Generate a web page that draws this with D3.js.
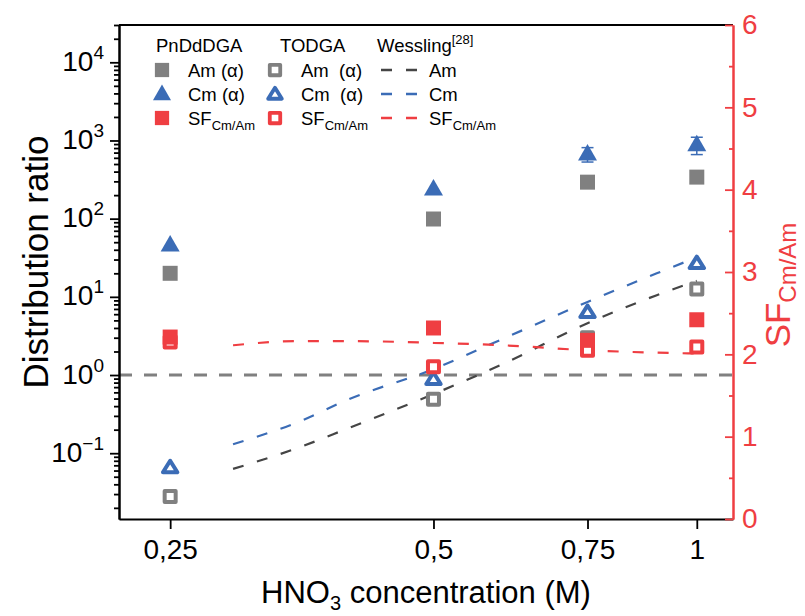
<!DOCTYPE html>
<html>
<head>
<meta charset="utf-8">
<script src="https://cdn.jsdelivr.net/npm/d3@7"></script>
<style>
body { margin: 0; background: #fff; }
text { font-family: "Liberation Sans", Arial, sans-serif; }
</style>
</head>
<body>
<div id="chart"></div>
<script>
// HNO3 concentration (M)
const conc = [0.25, 0.5, 0.75, 1];

// PnDdDGA
const pnAm = [20, 99, 293, 340];
const pnCm = [46, 240, 670, 880];
const pnCmErr = [0, 0, 140, 220];
const pnSF = [2.21, 2.32, 2.17, 2.42];

// TODGA
const toAm = [0.028, 0.49, 3.0, 12.6];
const toCm = [0.066, 0.89, 6.4, 27];
const toSF = [2.15, 1.85, 2.05, 2.09];

// Wessling [28]
const wConc = [0.295, 0.35, 0.4, 0.5, 0.6, 0.75, 0.9, 1];
const wAm = [0.063, 0.117, 0.21, 0.57, 1.38, 4.6, 10.5, 16];
const wCm = [0.13, 0.25, 0.49, 1.19, 2.9, 8.6, 20, 32];
const wSF = [2.11, 2.16, 2.16, 2.14, 2.11, 2.05, 2.02, 2.01];

const xTicks = [0.25, 0.5, 0.75, 1];
const yExps = [-1, 0, 1, 2, 3, 4];
const sfTicks = [0, 1, 2, 3, 4, 5, 6];
const sfMinor = [0.5, 1.5, 2.5, 3.5, 4.5, 5.5];

const gray = "#808080", blue = "#3b6cb6", red = "#ef3e42", dark = "#454545";

const svg = d3.select("#chart")
    .append("svg")
    .attr("width", 805)
    .attr("height", 616)
    .style("background", "#fff");

const x = d3.scaleLog().domain([0.2185, 1.1]).range([119, 733]);
const y = d3.scaleLog().domain([0.0144, 30000]).range([519, 25]);
const y2 = d3.scaleLinear().domain([0, 6]).range([519, 25]);

// minor ticks of the log axis
const yMinor = [];
yExps.concat([-2]).forEach(e => {
    for (let m = 2; m <= 9; m++) {
        const v = m * Math.pow(10, e);
        if (v >= y.domain()[0] && v <= y.domain()[1]) yMinor.push(v);
    }
});

// reference line D = 1
svg.append("line")
    .attr("x1", 119).attr("x2", 733)
    .attr("y1", y(1)).attr("y2", y(1))
    .attr("stroke", gray)
    .attr("stroke-width", 3)
    .attr("stroke-dasharray", "13,12");

// Wessling curves
const wLine = (vals, scale) => d3.line()
    .x((d, i) => x(wConc[i]))
    .y(d => scale(d))
    .curve(d3.curveMonotoneX)(vals);

[[wAm, y, dark], [wCm, y, blue], [wSF, y2, red]].forEach(([vals, scale, col]) => {
    svg.append("path")
        .attr("d", wLine(vals, scale))
        .attr("fill", "none")
        .attr("stroke", col)
        .attr("stroke-width", 2.2)
        .attr("stroke-dasharray", "11,14");
});

// marker shapes
const filledSquare = "M-7.5,-7.5H7.5V7.5H-7.5Z";
const hollowSquare = "M-5.5,-5.5H5.5V5.5H-5.5Z";
const filledTri = "M0,-10L9.5,6.5L-9.5,6.5Z";
const hollowTri = "M0,-6.5L7.2,5L-7.2,5Z";

function markers(vals, scale, shape, col, hollow) {
    svg.append("g")
        .selectAll("path")
        .data(vals)
        .enter()
        .append("path")
        .attr("transform", (d, i) => `translate(${x(conc[i])},${scale(d)})`)
        .attr("d", shape)
        .attr("fill", hollow ? "#fff" : col)
        .attr("stroke", hollow ? col : "none")
        .attr("stroke-width", hollow ? 4 : 0)
        .attr("stroke-linejoin", "round");
}

markers(toAm, y, hollowSquare, gray, true);
markers(toCm, y, hollowTri, blue, true);
markers(toSF, y2, hollowSquare, red, true);
markers(pnAm, y, filledSquare, gray, false);
markers(pnCm, y, filledTri, blue, false);
markers(pnSF, y2, filledSquare, red, false);

// error bars
const eb = svg.append("g").attr("stroke", blue).attr("stroke-width", 1.5);
pnCm.forEach((v, i) => {
    if (!pnCmErr[i]) return;
    const cx = x(conc[i]), lo = y(v - pnCmErr[i]), hi = y(v + pnCmErr[i]);
    eb.append("line").attr("x1", cx).attr("x2", cx).attr("y1", lo).attr("y2", hi);
    eb.append("line").attr("x1", cx - 6).attr("x2", cx + 6).attr("y1", lo).attr("y2", lo);
    eb.append("line").attr("x1", cx - 6).attr("x2", cx + 6).attr("y1", hi).attr("y2", hi);
});

// frame top
svg.append("line")
    .attr("x1", 119).attr("x2", 733)
    .attr("y1", 25).attr("y2", 25)
    .attr("stroke", "#000").attr("stroke-width", 2);

// left axis
svg.append("g")
    .attr("transform", "translate(119,0)")
    .call(d3.axisLeft(y).tickValues(yMinor).tickSize(5).tickSizeOuter(0).tickFormat(""))
    .call(g => g.selectAll("line").attr("stroke-width", 1.8))
    .call(g => g.select(".domain").attr("stroke-width", 2));

const yAxis = svg.append("g")
    .attr("transform", "translate(119,0)")
    .call(d3.axisLeft(y).tickValues(yExps.map(e => Math.pow(10, e))).tickSize(9).tickSizeOuter(0).tickFormat(""));
yAxis.selectAll("line").attr("stroke-width", 1.8);
yAxis.select(".domain").attr("stroke-width", 2);

yAxis.selectAll(".tick")
    .append("text")
    .attr("x", -15)
    .attr("y", 8)
    .attr("text-anchor", "end")
    .attr("fill", "#000")
    .style("font-size", "28px")
    .each(function(d) {
        const t = d3.select(this);
        const e = Math.round(Math.log10(d));
        t.append("tspan").text("10");
        t.append("tspan")
            .attr("dy", -12)
            .style("font-size", "19px")
            .text(e < 0 ? "\u2212" + (-e) : e);
    });

// bottom axis
const xAxis = svg.append("g")
    .attr("transform", "translate(0,519)")
    .call(d3.axisBottom(x).tickValues(xTicks).tickSize(10).tickSizeOuter(0).tickPadding(10)
        .tickFormat(d => String(d).replace(".", ",")));
xAxis.selectAll("line").attr("stroke-width", 1.8);
xAxis.select(".domain").attr("stroke-width", 2);
xAxis.selectAll("text").style("font-size", "28px").attr("fill", "#000");

// right axis
svg.append("g")
    .attr("transform", "translate(733,0)")
    .call(d3.axisRight(y2).tickValues(sfMinor).tickSize(-4).tickSizeOuter(0).tickFormat(""))
    .call(g => g.selectAll("line").attr("stroke", red).attr("stroke-width", 1.8))
    .call(g => g.select(".domain").attr("stroke", red).attr("stroke-width", 2));

const rAxis = svg.append("g")
    .attr("transform", "translate(733,0)")
    .call(d3.axisRight(y2).tickValues(sfTicks).tickSize(-8).tickSizeOuter(0).tickPadding(9)
        .tickFormat(d3.format("d")));
rAxis.selectAll("line").attr("stroke", red).attr("stroke-width", 1.8);
rAxis.select(".domain").attr("stroke", red).attr("stroke-width", 2);
rAxis.selectAll("text").style("font-size", "28px").attr("fill", red);

// axis titles
const xTitle = svg.append("text")
    .attr("x", 426)
    .attr("y", 603)
    .attr("text-anchor", "middle")
    .style("font-size", "31px");
xTitle.append("tspan").text("HNO");
xTitle.append("tspan").attr("dy", 7).style("font-size", "20px").text("3");
xTitle.append("tspan").attr("dy", -7).text(" concentration (M)");

svg.append("text")
    .attr("transform", "translate(48,262) rotate(-90)")
    .attr("text-anchor", "middle")
    .style("font-size", "35px")
    .text("Distribution ratio");

const rTitle = svg.append("text")
    .attr("transform", "translate(790,285) rotate(-90)")
    .attr("text-anchor", "middle")
    .attr("fill", red)
    .style("font-size", "35px");
rTitle.append("tspan").text("SF");
rTitle.append("tspan").attr("dy", 6).style("font-size", "24px").text("Cm/Am");

// legend
const legend = svg.append("g").style("font-size", "18.5px");
[["PnDdDGA", 156], ["TODGA", 280]].forEach(([t, lx]) => {
    legend.append("text").attr("x", lx).attr("y", 52).text(t);
});
const wt = legend.append("text").attr("x", 377).attr("y", 52);
wt.append("tspan").text("Wessling");
wt.append("tspan").attr("dy", -8).style("font-size", "13px").text("[28]");

const rows = [
    {y: 70, col: gray, pn: filledSquare, to: hollowSquare, lab: "Am (\u03b1)", lab2: "Am  (\u03b1)", lab3: "Am", sf: false},
    {y: 94, col: blue, pn: filledTri, to: hollowTri, lab: "Cm (\u03b1)", lab2: "Cm  (\u03b1)", lab3: "Cm", sf: false},
    {y: 118, col: red, pn: filledSquare, to: hollowSquare, lab: "SF", lab2: "SF", lab3: "SF", sf: true}
];

function legendLabel(lx, ly, t, sf) {
    const el = legend.append("text").attr("x", lx).attr("y", ly + 7).style("white-space", "pre").text(t);
    if (sf) el.append("tspan").attr("dy", 5).style("font-size", "13px").text("Cm/Am");
}

rows.forEach((r, i) => {
    legend.append("path")
        .attr("transform", `translate(162,${r.y}) scale(0.95)`)
        .attr("d", r.pn).attr("fill", r.col);
    legend.append("path")
        .attr("transform", `translate(275,${r.y}) scale(0.95)`)
        .attr("d", r.to).attr("fill", "#fff").attr("stroke", r.col)
        .attr("stroke-width", 4).attr("stroke-linejoin", "round");
    legend.append("line")
        .attr("x1", 381).attr("x2", 418).attr("y1", r.y).attr("y2", r.y)
        .attr("stroke", i === 0 ? dark : r.col)
        .attr("stroke-width", 2.5)
        .attr("stroke-dasharray", "11,14");
    legendLabel(188, r.y, r.lab, r.sf);
    legendLabel(301, r.y, r.lab2, r.sf);
    legendLabel(429, r.y, r.lab3, r.sf);
});
</script>
</body>
</html>
